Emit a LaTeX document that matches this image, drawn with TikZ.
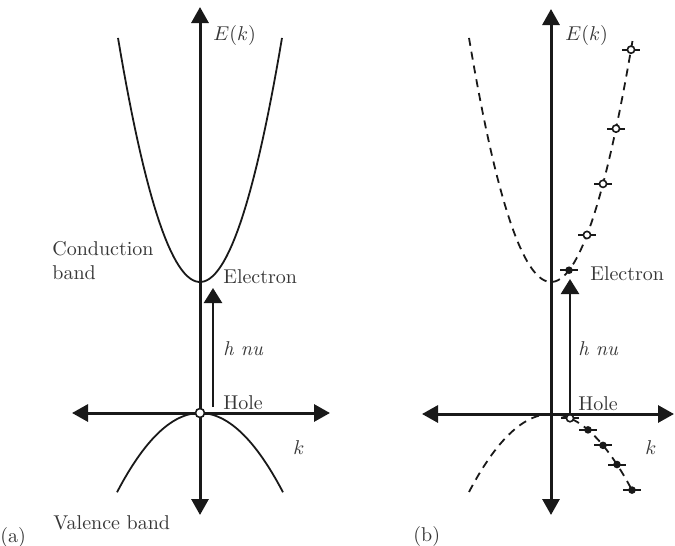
\documentclass[tikz,border=0pt]{standalone}
\usepackage{amsmath}
\usepackage{xcolor}
\usepackage{tikz}
\usetikzlibrary{arrows.meta,positioning}
\definecolor{encre}{RGB}{25,25,25}
\definecolor{gristexte}{RGB}{55,55,55}
\tikzset{
  axe/.style={line width=1.5pt, encre, {Triangle[length=8pt,width=8.5pt]}-{Triangle[length=8pt,width=8.5pt]}},
  bande/.style={line width=0.9pt, encre},
  bandepointillee/.style={bande, dash pattern=on 4pt off 3pt},
  photon/.style={line width=1.2pt, encre, -{Triangle[length=7.5pt,width=9pt]}},
  trou/.style={circle, draw=encre, fill=white, line width=0.8pt, inner sep=0pt, minimum size=3.6pt},
  electron/.style={circle, fill=encre, inner sep=0pt, minimum size=3.8pt},
  tiret/.style={line width=1pt, encre},
  etiquette/.style={text=gristexte, anchor=west, inner sep=0pt}
}

\begin{document}
\begin{tikzpicture}[x=0.5pt, y=-0.5pt, font=\normalsize]
\useasboundingbox (0,0) rectangle (675,546);
% (a)
\draw[bande] plot[domain=-82:82, samples=60] ({200+\x},{282-0.0363*\x*\x});
\draw[bande] plot[domain=-83:83, samples=60] ({200+\x},{413+0.0115*\x*\x});
\coordinate (hautA) at (200,7);
\coordinate (basA) at (200,515);
\coordinate (gaucheA) at (72,413);
\coordinate (droiteA) at (330,413);
\draw[axe] (basA) -- (hautA);
\draw[axe] (gaucheA) -- (droiteA);
\node[trou, minimum size=4.5pt] (trouA) at (200,413) {};
\coordinate (departA) at (213,407);
\coordinate (arriveeA) at (213,288);
\draw[photon] (departA) -- (arriveeA);
\node[etiquette] (EkA) at (213,35) {$E(k)$};
\node[etiquette, align=left] (condA) at (52,261) {Conduction\\band};
\node[etiquette] (elecA) at (223,277) {Electron};
\node[etiquette] (hnuA) at (223,349) {\textit{h nu}};
\node[etiquette] (holeA) at (223,403) {Hole};
\node[etiquette] (kA) at (293,448) {$k$};
\node[etiquette] (valA) at (53,523) {Valence band};
\node[etiquette] (titreA) at (0,537) {(a)};
% (b)
\draw[bandepointillee] plot[domain=-82:82, samples=60] ({551+\x},{282-0.0363*\x*\x});
\draw[bandepointillee] plot[domain=-82:82, samples=60] ({551+\x},{414+0.0116*\x*\x});
\coordinate (hautB) at (551,9);
\coordinate (basB) at (551,515);
\coordinate (gaucheB) at (422,414);
\coordinate (droiteB) at (674,414);
\draw[axe] (basB) -- (hautB);
\draw[axe] (gaucheB) -- (droiteB);
\foreach \dx [count=\i] in {36,52,65,80} {
  \coordinate (c\i) at ({551+\dx},{282-0.0363*\dx*\dx});
  \draw[tiret] ([xshift=-4.5pt]c\i) -- ([xshift=4.5pt]c\i);
  \node[trou] (ct\i) at (c\i) {};
}
\coordinate (ce) at ({551+18},{282-0.0363*18*18});
\draw[tiret] ([xshift=-4.5pt]ce) -- ([xshift=4.5pt]ce);
\node[electron] (elB) at (ce) {};
\foreach \dx [count=\i] in {37,52,66,81} {
  \coordinate (v\i) at ({551+\dx},{414+0.0116*\dx*\dx});
  \draw[tiret] ([xshift=-4.5pt]v\i) -- ([xshift=4.5pt]v\i);
  \node[electron] (ve\i) at (v\i) {};
}
\coordinate (vt) at ({551+19},{414+0.0116*19*19});
\draw[tiret] ([xshift=-4.5pt]vt) -- ([xshift=4.5pt]vt);
\node[trou] (trouB) at (vt) {};
\coordinate (arriveeB) at (570,279);
\draw[photon] (trouB) -- (arriveeB);
\node[etiquette] (EkB) at (565,35) {$E(k)$};
\node[etiquette] (elecB) at (590,274) {Electron};
\node[etiquette] (hnuB) at (578,349) {\textit{h nu}};
\node[etiquette] (holeB) at (578,404) {Hole};
\node[etiquette] (kB) at (645,448) {$k$};
\node[etiquette] (titreB) at (413,536) {(b)};
\end{tikzpicture}
\end{document}
